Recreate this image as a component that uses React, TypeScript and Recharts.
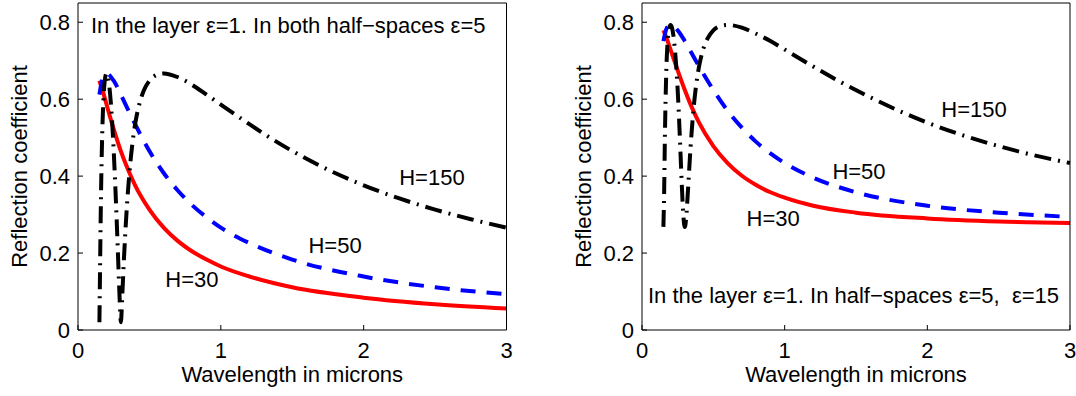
import React from "react";
import { LineChart, Line, XAxis, YAxis, ReferenceDot } from "recharts";

// wavelength (microns) for the H=30 and H=50 curves
const wavelength = [0.15, 0.175, 0.2, 0.25, 0.3, 0.35, 0.4, 0.5, 0.6, 0.7, 0.8, 0.9, 1.0, 1.2, 1.5, 2.0, 2.5, 3.0];
// H=150 oscillates, so it is read on a finer grid near the start
const wavelength150 = [
  0.15, 0.155, 0.16, 0.17, 0.18, 0.19, 0.2, 0.21, 0.22, 0.23, 0.24, 0.25, 0.26, 0.27, 0.28, 0.29, 0.3,
  0.31, 0.32, 0.34, 0.36, 0.38, 0.4, 0.43, 0.46, 0.5, 0.55, 0.6, 0.7, 0.8, 0.9, 1.0, 1.2, 1.4, 1.6,
  1.8, 2.0, 2.25, 2.5, 2.75, 3.0,
];

// left: both half-spaces eps=5
const leftH30 = [0.648, 0.619, 0.586, 0.522, 0.465, 0.417, 0.376, 0.313, 0.266, 0.231, 0.204, 0.183, 0.165, 0.139, 0.111, 0.084, 0.067, 0.056];
const leftH50 = [0.612, 0.657, 0.667, 0.648, 0.612, 0.573, 0.535, 0.465, 0.408, 0.362, 0.324, 0.293, 0.266, 0.226, 0.183, 0.139, 0.111, 0.093];
const leftH150 = [
  0.02, 0.177, 0.324, 0.516, 0.612, 0.655, 0.667, 0.657, 0.631, 0.59, 0.535, 0.465, 0.384, 0.293, 0.195, 0.096, 0.02,
  0.09, 0.172, 0.308, 0.408, 0.482, 0.535, 0.588, 0.622, 0.648, 0.663, 0.667, 0.657, 0.637, 0.612, 0.586, 0.535, 0.487, 0.445,
  0.408, 0.376, 0.342, 0.313, 0.288, 0.266,
];

// right: half-spaces eps=5 and eps=15
const rightH30 = [0.779, 0.756, 0.729, 0.675, 0.624, 0.578, 0.539, 0.478, 0.434, 0.401, 0.377, 0.358, 0.344, 0.323, 0.305, 0.29, 0.282, 0.278];
const rightH50 = [0.751, 0.786, 0.793, 0.779, 0.751, 0.718, 0.685, 0.624, 0.57, 0.526, 0.489, 0.459, 0.434, 0.396, 0.358, 0.323, 0.305, 0.294];
const rightH150 = [
  0.268, 0.353, 0.489, 0.669, 0.751, 0.784, 0.793, 0.786, 0.766, 0.732, 0.685, 0.624, 0.547, 0.459, 0.369, 0.296, 0.268,
  0.293, 0.349, 0.473, 0.57, 0.638, 0.685, 0.731, 0.758, 0.779, 0.79, 0.793, 0.786, 0.77, 0.751, 0.729, 0.685, 0.643, 0.605,
  0.57, 0.539, 0.506, 0.478, 0.454, 0.434,
];

const xTicks = [0, 1, 2, 3];
const yTicks = [0, 0.2, 0.4, 0.6, 0.8];

const FONT = "'Liberation Sans', Arial, Helvetica, sans-serif";
const textStyle = { fill: "#000", fontSize: 22, fontFamily: FONT };

const toPoints = (xs: number[], ys: number[]) => xs.map((x, i) => ({ x, y: ys[i] }));

type Note = { x: number; y: number; text: string; left?: boolean };

type PanelProps = {
  axisWidth: number;
  marginRight: number;
  titleOffset: number;
  h30: number[];
  h50: number[];
  h150: number[];
  notes: Note[];
};

const Panel = ({ axisWidth, marginRight, titleOffset, h30, h50, h150, notes }: PanelProps) => (
  <LineChart width={538} height={396} margin={{ top: 2, right: marginRight, left: 0, bottom: 0 }}>
    <XAxis
      xAxisId="b"
      dataKey="x"
      type="number"
      domain={[0, 3]}
      ticks={xTicks}
      height={66}
      stroke="#000"
      tickSize={-5}
      tickMargin={17}
      tick={textStyle}
      label={{ value: "Wavelength in microns", position: "insideBottom", offset: 14, ...textStyle }}
    />
    <XAxis xAxisId="t" dataKey="x" orientation="top" type="number" domain={[0, 3]} ticks={xTicks} height={1} stroke="#000" tickSize={-5} tick={false} />
    <YAxis
      yAxisId="l"
      type="number"
      domain={[0, 0.85]}
      ticks={yTicks}
      width={axisWidth}
      stroke="#000"
      tickSize={-5}
      tickMargin={13}
      tick={textStyle}
      label={{
        value: "Reflection coefficient",
        angle: -90,
        position: "insideLeft",
        offset: titleOffset,
        style: { textAnchor: "middle" },
        ...textStyle,
      }}
    />
    <YAxis yAxisId="r" orientation="right" type="number" domain={[0, 0.85]} ticks={yTicks} width={1} stroke="#000" tickSize={-5} tick={false} />

    <Line xAxisId="b" yAxisId="l" name="H=30" data={toPoints(wavelength, h30)} dataKey="y" type="monotone" stroke="#ff0000" strokeWidth={4} dot={false} isAnimationActive={false} />
    <Line xAxisId="b" yAxisId="l" name="H=50" data={toPoints(wavelength, h50)} dataKey="y" type="monotone" stroke="#0000ff" strokeWidth={4} strokeDasharray="15 11" dot={false} isAnimationActive={false} />
    <Line xAxisId="b" yAxisId="l" name="H=150" data={toPoints(wavelength150, h150)} dataKey="y" type="monotone" stroke="#000" strokeWidth={4} strokeDasharray="17 7 2 7" dot={false} isAnimationActive={false} />

    {notes.map((n) => (
      <ReferenceDot
        key={n.text}
        xAxisId="b"
        yAxisId="l"
        x={n.x}
        y={n.y}
        r={0}
        fill="none"
        stroke="none"
        label={{ value: n.text, position: n.left ? "right" : "center", offset: 0, ...textStyle }}
      />
    ))}
  </LineChart>
);

const leftNotes: Note[] = [
  { x: 0.091, y: 0.793, text: "In the layer ε=1. In both half\u2212spaces ε=5", left: true },
  { x: 2.478, y: 0.396, text: "H=150" },
  { x: 1.8, y: 0.221, text: "H=50" },
  { x: 0.798, y: 0.132, text: "H=30" },
];

const rightNotes: Note[] = [
  { x: 0.042, y: 0.091, text: "In the layer ε=1. In half\u2212spaces ε=5,\u00a0 ε=15", left: true },
  { x: 2.327, y: 0.574, text: "H=150" },
  { x: 1.521, y: 0.414, text: "H=50" },
  { x: 0.919, y: 0.291, text: "H=30" },
];

export default function App() {
  return (
    <div style={{ position: "absolute", left: 0, top: 0, width: 1076, height: 396, background: "#fff" }}>
      <div style={{ position: "absolute", left: 0, top: 0 }}>
        <Panel axisWidth={78} marginRight={30.5} titleOffset={19} h30={leftH30} h50={leftH50} h150={leftH150} notes={leftNotes} />
      </div>
      <div style={{ position: "absolute", left: 538, top: 0 }}>
        <Panel axisWidth={104} marginRight={5} titleOffset={45} h30={rightH30} h50={rightH50} h150={rightH150} notes={rightNotes} />
      </div>
    </div>
  );
}
